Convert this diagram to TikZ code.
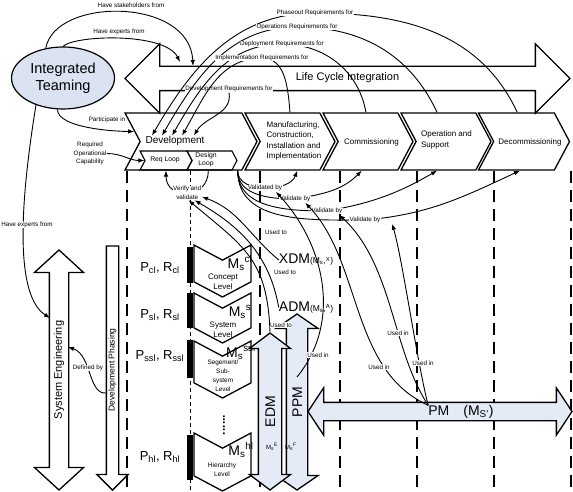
\documentclass[tikz,border=0pt]{standalone}
\usepackage{fontspec}
\setmainfont{Liberation Sans}
\usetikzlibrary{positioning,shapes.symbols,shapes.arrows,shapes.geometric,arrows.meta}

\definecolor{teamfill}{RGB}{219,227,242}
\definecolor{modelfill}{RGB}{228,234,246}

\begin{document}
\begin{tikzpicture}[
    x=1pt, y=1pt,
    conn/.style={line width=0.9pt, -{Latex[length=6pt,width=4.5pt]}},
    phaseline/.style={line width=1.1pt, dash pattern=on 12pt off 7pt},
    levelline/.style={line width=0.6pt, dash pattern=on 4pt off 3pt}]

\tikzstyle{lbl} = [
    font = \fontsize{6.3}{8.5}\selectfont,
    align = center, fill = white, inner sep = 0.4pt
]
\tikzstyle{phasebox} = [
    draw, line width = 1.3pt, shape = signal,
    signal to = east, signal from = west, signal pointer angle = 124,
    minimum height = 57pt, inner sep = 0pt
]
\tikzstyle{phasetext} = [
    font = \fontsize{8}{10.2}\selectfont, inner sep = 0pt
]
\tikzstyle{loopbox} = [
    draw, line width = 1.1pt, shape = signal,
    signal to = east, signal from = west, signal pointer angle = 124,
    minimum height = 19pt, inner sep = 0pt
]
\tikzstyle{looptext} = [
    font = \fontsize{6.8}{8}\selectfont, align = center, inner sep = 0pt
]
\tikzstyle{hlevel} = [
    draw, line width = 1.3pt, shape = signal,
    signal to = south, signal from = north, signal pointer angle = 124,
    minimum width = 57pt, inner sep = 0pt
]
\tikzstyle{leveltext} = [
    font = \fontsize{8}{10}\selectfont, align = center, inner sep = 0pt
]
\tikzstyle{levelbar} = [
    fill = black, minimum width = 6pt, inner sep = 0pt
]
\tikzstyle{mtext} = [
    font = \fontsize{14}{16}\selectfont, inner sep = 0pt
]
\tikzstyle{prtext} = [
    font = \fontsize{13}{15}\selectfont, inner sep = 0pt
]
\tikzstyle{bigarrow} = [
    draw, line width = 1.3pt, fill = white
]
\tikzstyle{modelarrow} = [
    draw, line width = 1.3pt, fill = modelfill, shape = double arrow,
    font = \fontsize{14}{16}\selectfont
]

\useasboundingbox (0,0) rectangle (573,-492);

% teaming and life cycle integration
\node[ellipse, draw, line width=1.2pt, fill=teamfill, minimum width=103pt,
      minimum height=62pt, inner sep=0pt, align=center,
      font=\fontsize{14.5}{17}\selectfont] (team) at (63,-78) {Integrated\\Teaming};
\node[bigarrow, shape=double arrow, minimum height=445pt, minimum width=68pt,
      double arrow head extend=22.5pt, double arrow tip angle=90,
      text height=7pt, text depth=2pt, inner ysep=7pt, inner xsep=0pt,
      font=\fontsize{11}{13}\selectfont] (lci) at (347.5,-78.5) {Life Cycle Integration};
\coordinate (lci a) at (180,-62);
\coordinate (lci b) at (193,-66);

% life cycle phases
\node[phasebox, minimum width=132pt] (dev) at (191,-141.5) {};
\node[phasebox, minimum width=90pt] (manu) at (290,-141.5) {};
\node[phasebox, minimum width=90pt] (comm) at (368,-141.5) {};
\node[phasebox, minimum width=90pt] (oper) at (446,-141.5) {};
\node[phasebox, minimum width=91pt] (decom) at (524,-141.5) {};
\node[loopbox, minimum width=52pt] (req) at (166,-160.5) {};
\node[loopbox, minimum width=50pt] (design) at (212,-160.5) {};

\node[phasetext, font=\fontsize{10}{12}\selectfont] (devtxt) at (175,-140.5) {Development};
\node[phasetext, align=left] (manutxt) at (294,-141) {Manufacturing,\\Construction,\\Installation and\\Implementation};
\node[phasetext] (commtxt) at (371.5,-142) {Commissioning};
\node[phasetext, align=left] (opertxt) at (446.5,-140) {Operation and\\Support};
\node[phasetext] (decomtxt) at (530,-142) {Decommissioning};
\node[looptext] (reqtxt) at (165,-160) {Req Loop};
\node[looptext] (designtxt) at (206,-160) {Design\\Loop};

\foreach \x in {127,260,340,417,494,571}
    \draw[phaseline] (\x,-171) -- (\x,-492);
\draw[levelline] (190,-171) -- (190,-492);

% hierarchy levels
\node[hlevel, minimum height=21.7pt] (lvc) at (222.5,-271) {};
\node[hlevel, minimum height=19.7pt] (lvs) at (222.5,-318) {};
\node[hlevel, minimum height=26.7pt] (lvss) at (222.5,-369.5) {};
\node[hlevel, minimum height=27.7pt] (lvh) at (222.5,-462) {};
\node[levelbar, minimum height=36pt] (barc) at (190,-265) {};
\node[levelbar, minimum height=35pt] (bars) at (190,-310.5) {};
\node[levelbar, minimum height=38pt] (barss) at (190,-359) {};
\node[levelbar, minimum height=45pt] (barh) at (190,-457.5) {};

\node[mtext] (mcl) at (240,-263) {M\textsubscript{s}\textsuperscript{cl}};
\node[mtext] (msl) at (240,-312) {M\textsubscript{s}\textsuperscript{s}};
\node[mtext] (mssl) at (241,-352) {M\textsubscript{s}\textsuperscript{ssl}};
\node[mtext] (mhl) at (241,-450) {M\textsubscript{s}\textsuperscript{hl}};
\node[leveltext] (lcl) at (223,-282) {Concept\\Level};
\node[leveltext] (lsl) at (223,-330) {System\\Level};
\node[leveltext, font=\fontsize{6.4}{9}\selectfont] (lssl) at (223,-376) {Segement/\\Sub-\\system\\Level};
\node[leveltext, font=\fontsize{6.6}{9}\selectfont] (lhl) at (222,-469.5) {Hierarchy\\Level};
\node[rotate=90, inner sep=0pt, font=\bfseries\fontsize{12}{12}\selectfont] (gap) at (224,-425) {......};

\node[prtext] (prc) at (160,-268) {P\textsubscript{cl}, R\textsubscript{cl}};
\node[prtext] (prs) at (160,-315) {P\textsubscript{sl}, R\textsubscript{sl}};
\node[prtext] (prss) at (160,-356) {P\textsubscript{ssl}, R\textsubscript{ssl}};
\node[prtext] (prh) at (160,-457) {P\textsubscript{hl}, R\textsubscript{hl}};

% engineering and phasing arrows
\node[bigarrow, shape=double arrow, rotate=90, minimum height=240pt, minimum width=48pt,
      double arrow head extend=15pt, double arrow tip angle=95,
      text height=8pt, text depth=2.5pt, inner ysep=3.75pt, inner xsep=0pt,
      font=\fontsize{11}{13}\selectfont] (se) at (59,-370) {System Engineering};
\node[bigarrow, shape=single arrow, rotate=-90, anchor=tip, minimum height=244pt,
      minimum width=30pt, single arrow head extend=9.5pt, single arrow tip angle=90,
      inner ysep=5.5pt, inner xsep=0pt] (dp) at (112.5,-491) {};
\node[rotate=90, inner sep=0pt, font=\fontsize{8.5}{10}\selectfont] (dptxt) at (112.5,-370) {Development Phasing};
\coordinate (se in) at (50,-318);
\coordinate (se out) at (68,-347);
\coordinate (dp out) at (106.5,-393);

% models
\node[modelarrow, rotate=90, minimum height=176pt, minimum width=41pt,
      double arrow head extend=10.5pt, double arrow tip angle=111,
      text height=10pt, text depth=0pt, inner ysep=5pt, inner xsep=0pt] (ppm) at (297,-402) {PPM};
\node[modelarrow, rotate=90, minimum height=157pt, minimum width=40pt,
      double arrow head extend=9pt, double arrow tip angle=106,
      text height=10pt, text depth=0pt, inner ysep=6pt, inner xsep=0pt] (edm) at (270,-411.5) {EDM};
\node[modelarrow, minimum height=264pt, minimum width=46pt,
      double arrow head extend=14.5pt, double arrow tip angle=113,
      inner ysep=8.5pt, inner xsep=0pt] (pm) at (440,-411.5) {};
\node[mtext] (pmtxt) at (461,-412) {PM\hspace{14pt}(M\textsubscript{S'})};
\node[inner sep=0pt, font=\fontsize{6}{7}\selectfont] (mse) at (272,-447) {M\textsubscript{s}\textsuperscript{E}};
\node[inner sep=0pt, font=\fontsize{6}{7}\selectfont] (msf) at (291,-447) {M\textsubscript{s}\textsuperscript{F}};
\node[mtext] (xdm) at (306,-260) {XDM{\fontsize{8.5}{10}\selectfont(M\textsubscript{s},\textsuperscript{X})}};
\node[mtext] (adm) at (306,-307.5) {ADM{\fontsize{8.5}{10}\selectfont(M\textsubscript{s},\textsuperscript{A})}};
\coordinate (ppmlink) at (297,-377);

% teaming links
\draw[conn] (team.120) .. controls (55,3) and (190,3) .. (lci b);
\draw[conn] (team.north) .. controls (75,-35) and (165,-32) .. (lci a);
\draw[conn] (team.-100) to[out=-90,in=180,looseness=0.6] (dev.170);
\draw[conn] (team.225) .. controls (14,-240) and (22,-300) .. (se in);
\node[lbl] (stake) at (131,-5) {Have stakeholders from};
\node[lbl] (expert) at (119,-32) {Have experts from};
\node[lbl] (partic) at (107,-120) {Participate in};
\node[lbl] (expertb) at (27,-225) {Have experts from};

% requirements from the later phases
\node[lbl] (devreq) at (229,-89) {Development Requirements for};
\draw[conn] (decom.103) to[out=115,in=0] (315,-13) node[lbl] (phaseout) {Phaseout Requirements for}
    to[out=180,in=60] ([xshift=-23pt]devtxt.north);
\draw[conn] (oper.107) to[out=115,in=0] (297,-27) node[lbl] (operreq) {Operations Requirements for}
    to[out=180,in=60] ([xshift=-13pt]devtxt.north);
\draw[conn] (comm.94) to[out=100,in=0] (282,-44) node[lbl] (deplreq) {Deployment Requirements for}
    to[out=180,in=60] ([xshift=-3pt]devtxt.north);
\draw[conn] (manu.north) to[out=95,in=0] (262,-58) node[lbl] (implreq) {Implementation Requirements for}
    to[out=180,in=60] ([xshift=7pt]devtxt.north);
\draw[conn] (devreq.south) to[out=-80,in=60] ([xshift=19pt]devtxt.north);

\node[lbl, fill=none] (roc) at (90,-153.5) {Required\\Operational\\Capability};
\draw[conn] (roc.east) to[out=0,in=180] (req.west);

% validation
\draw[conn] (dev.-32) to[out=-90,in=180] (265,-188) node[lbl] (val1) {Validated by}
    to[out=0,in=-110] (manu.-76);
\draw[conn] (dev.-32) to[out=-90,in=180] (295,-199) node[lbl] (val2) {Validate by}
    to[out=10,in=-135] (comm.-102);
\draw[conn] (dev.-32) to[out=-90,in=180] (327,-211) node[lbl] (val3) {Validate by}
    to[out=10,in=-150] (oper.-107);
\draw[conn] (dev.-32) to[out=-90,in=180] (365,-220) node[lbl] (val4) {Validate by}
    to[out=5,in=-155] (decom.-98);
\draw[conn] (design.-110) to[out=-90,in=-90,looseness=1.8]
    node[lbl,pos=0.5] (verify) {Verify and\\validate} (req.south);

% model usage
\draw[conn] (xdm.west) to[out=140,in=-20] (verify.-15);
\draw[conn] (adm.west) to[out=100,in=-30] (verify.-45);
\draw[conn] (edm.east) to[out=92,in=-40,looseness=1.2] (verify.-80);
\node[lbl] (useto1) at (276,-232) {Used to};
\node[lbl] (useto2) at (285,-272) {Used to};
\node[lbl] (useto3) at (281,-325) {Used to};

\draw[conn] (ppmlink) .. controls (342,-322) and (325,-245) .. ([xshift=-7pt]val1.south east);
\draw[conn] (pmtxt.north west) .. controls (350,-370) and (362,-262) .. ([xshift=-6pt]val2.south east);
\draw[conn] (pmtxt.north west) .. controls (392,-350) and (393,-265) .. ([xshift=-4pt]val3.south east);
\draw[conn] (pmtxt.north west) .. controls (417,-362) and (403,-262) .. ([xshift=11pt]val4.south east);
\node[lbl] (usein1) at (318,-355) {Used in};
\node[lbl] (usein2) at (379,-367) {Used in};
\node[lbl] (usein3) at (398,-333) {Used in};
\node[lbl] (usein4) at (423,-363) {Used in};

\draw[conn] (dp out) .. controls (88,-395) and (92,-355) .. (se out);
\node[lbl] (defined) at (88,-368) {Defined by};
\end{tikzpicture}
\end{document}
